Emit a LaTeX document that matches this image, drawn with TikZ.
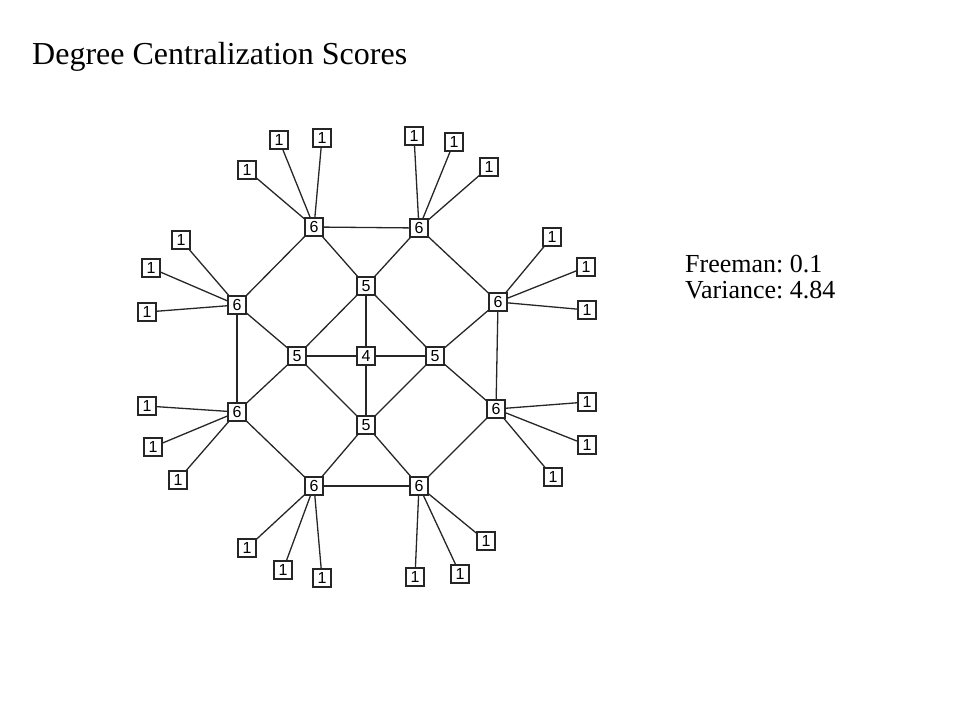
\documentclass[tikz,border=0pt]{standalone}
\usepackage{fontspec}
\setmainfont{Liberation Serif}
\newfontfamily\boxfont{Liberation Sans}
\frenchspacing
\begin{document}
\begin{tikzpicture}[x=1pt,y=-1pt,
  vbox/.style={draw=black!85,line width=1.3pt,fill=white,rectangle,minimum width=18pt,minimum height=18pt,inner sep=0pt,font=\boxfont\fontsize{16}{16}\selectfont},
  edge/.style={draw=black!85,line width=1.3pt},
  lbl/.style={anchor=base west,inner sep=0pt}]
\useasboundingbox (0,0) rectangle (960,720);
% title and scores
\node[lbl,font=\fontsize{32}{38}\selectfont] (title) at (32,64) {Degree Centralization Scores};
\node[lbl,font=\fontsize{26}{30}\selectfont] (free) at (685,272) {Freeman: 0.1};
\node[lbl,font=\fontsize{26}{30}\selectfont] (vari) at (685,298) {Variance: 4.84};
% hubs
\node[vbox] (tl) at (314,227) {6};
\node[vbox] (tr) at (419,228) {6};
\node[vbox] (l)  at (237,305) {6};
\node[vbox] (r)  at (498,302) {6};
\node[vbox] (ll) at (237,412) {6};
\node[vbox] (rl) at (496,409) {6};
\node[vbox] (bl) at (314,486) {6};
\node[vbox] (br) at (419,486) {6};
% center
\node[vbox] (ct) at (366,286) {5};
\node[vbox] (cl) at (297,356) {5};
\node[vbox] (c)  at (366,356) {4};
\node[vbox] (cr) at (435,356) {5};
\node[vbox] (cb) at (366,425) {5};
% leaves
\node[vbox] (tl1) at (279,140) {1};
\node[vbox] (tl2) at (322,138) {1};
\node[vbox] (tl3) at (247,170) {1};
\node[vbox] (tr1) at (414,136) {1};
\node[vbox] (tr2) at (454,142) {1};
\node[vbox] (tr3) at (489,167) {1};
\node[vbox] (l1) at (181,240) {1};
\node[vbox] (l2) at (151,268) {1};
\node[vbox] (l3) at (147,312) {1};
\node[vbox] (r1) at (552,237) {1};
\node[vbox] (r2) at (586,267) {1};
\node[vbox] (r3) at (587,310) {1};
\node[vbox] (ll1) at (147,406) {1};
\node[vbox] (ll2) at (153,447) {1};
\node[vbox] (ll3) at (178,480) {1};
\node[vbox] (rl1) at (587,402) {1};
\node[vbox] (rl2) at (587,445) {1};
\node[vbox] (rl3) at (553,477) {1};
\node[vbox] (bl1) at (247,548) {1};
\node[vbox] (bl2) at (283,570) {1};
\node[vbox] (bl3) at (322,578) {1};
\node[vbox] (br1) at (486,541) {1};
\node[vbox] (br2) at (460,574) {1};
\node[vbox] (br3) at (415,577) {1};
% edges
\foreach \a/\b in {tl/tr,tl/l,tl/ct,tr/ct,tr/r,l/cl,l/ll,r/cr,r/rl,
  ct/cl,ct/cr,ct/c,c/cb,cl/c,c/cr,cl/cb,cr/cb,cl/ll,cr/rl,
  ll/bl,bl/cb,bl/br,br/cb,br/rl,
  tl/tl1,tl/tl2,tl/tl3,tr/tr1,tr/tr2,tr/tr3,l/l1,l/l2,l/l3,r/r1,r/r2,r/r3,
  ll/ll1,ll/ll2,ll/ll3,rl/rl1,rl/rl2,rl/rl3,bl/bl1,bl/bl2,bl/bl3,br/br1,br/br2,br/br3}
  \draw[edge] (\a) -- (\b);
\end{tikzpicture}
\end{document}
